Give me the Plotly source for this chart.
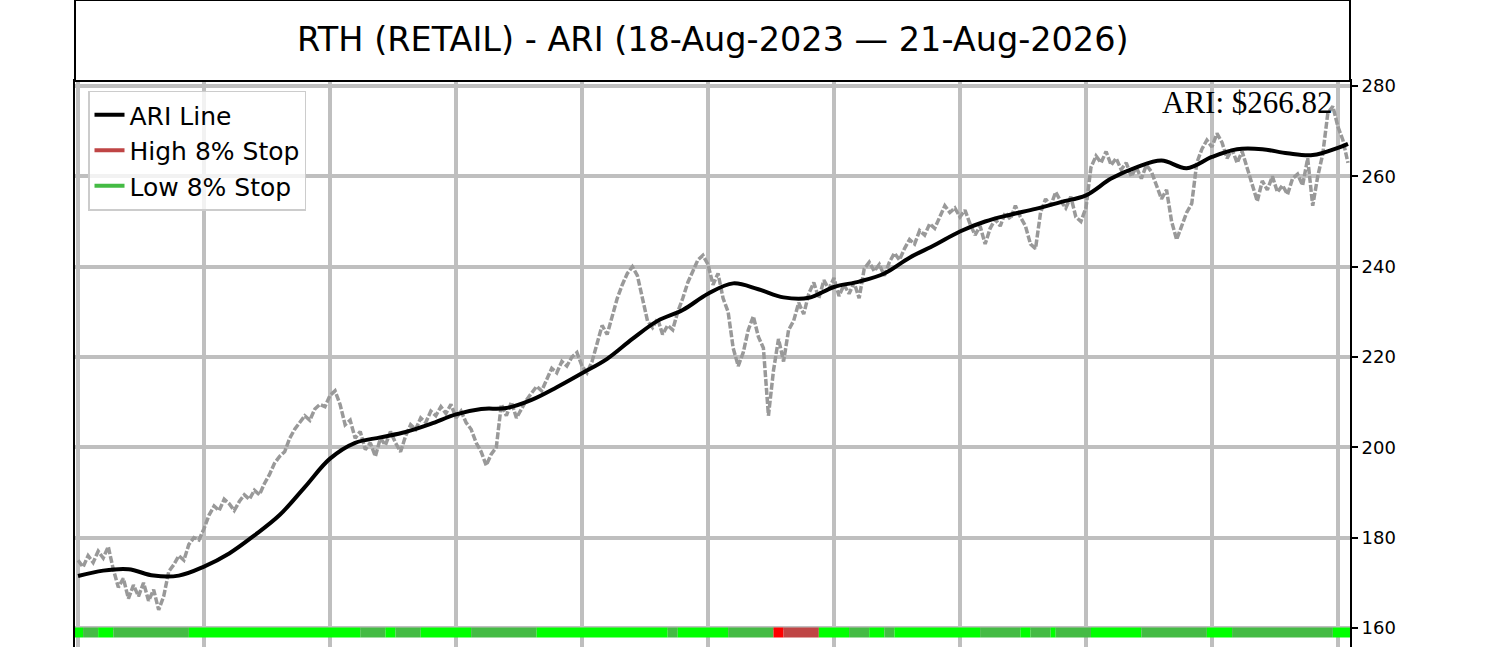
import plotly.graph_objects as go

# daily close (one point per bar index)
closes = [
    175, 173.5, 176, 174.5, 177, 175.5, 178, 173, 169, 171, 166.5, 169.5, 167, 170, 166, 168.5, 164, 167, 172.5, 174, 176, 175, 178.5, 180, 179.5,
    182, 185, 187, 186, 188.5, 187.5, 186, 188, 189.5, 188.5, 190.5, 189.5, 192, 194, 196.5, 198, 199, 202, 204, 205.5, 207, 206, 208.5, 209.5, 209,
    211.5, 212.5, 209.5, 205, 206, 202, 203.5, 199.5, 201, 198, 202, 200.5, 203.5, 201, 199, 202.5, 205, 204, 206.5, 205.5, 208, 207, 209, 207.5, 209.5,
    206.5, 208, 205.5, 204, 201, 199, 196, 198.5, 200, 209.5, 207, 210, 206.5, 208.5, 210.5, 212, 213.5, 212.5, 215, 217.5, 216.5, 219, 218, 220, 221,
    218, 216.5, 219, 223, 227, 225, 229, 233, 236, 238.5, 240, 238, 233, 228, 226.5, 228.5, 225, 227, 226, 230, 233, 236.5, 239, 241.5, 242.5,
    240.5, 236, 238.5, 233, 230, 222, 218, 221, 226, 229, 224.5, 222, 207, 217, 224, 219, 226, 228, 232, 229.5, 234, 236.5, 233, 237, 235,
    237.5, 233.5, 236, 234, 236.5, 233, 239.5, 241, 239, 240.5, 238, 241, 243, 241.5, 244, 246, 245, 248, 247, 249.5, 248.5, 251, 253.5, 252, 253,
    251, 252.5, 249.5, 247, 249, 245, 248.5, 250.5, 249, 252, 250.5, 253.5, 251, 249, 245, 244, 252, 255, 253.5, 256.5, 254.5, 253, 255.5, 251, 250,
    253, 262, 264.5, 263, 265.5, 262.5, 264, 261.5, 263, 260, 262, 259.5, 262.5, 261, 258, 255, 257, 250, 246, 249, 252, 254, 263, 266, 268,
    266.5, 269.5, 267.5, 264, 266, 263, 265.5, 262, 258.5, 254.5, 259, 257, 260, 256.5, 258, 256, 259.5, 260.5, 258, 264, 253.5, 260, 265, 274, 275.5,
    271, 268, 263,
]

# ARI line, sampled every 5 bars (+ last bar)
ari_idx = list(range(0, 251, 5)) + [252]
ari_vals = [
    171.5, 172.7, 173.0, 171.6, 171.6, 173.6, 176.5, 180.5, 185.0, 191.2,
    197.5, 201.0, 202.2, 203.4, 205.2, 207.3, 208.5, 208.7, 210.5, 213.3,
    216.4, 219.6, 224.0, 228.0, 230.4, 234.0, 236.3, 235.0, 233.2, 233.1,
    235.5, 236.7, 238.5, 242.0, 244.8, 247.8, 250.0, 251.5, 252.8, 254.3,
    255.8, 259.5, 262.0, 263.5, 261.8, 264.3, 266.0, 266.0, 265.1, 264.7,
    266.3, 267.2,
]
ari_last = 266.82

# stop state strip along the bottom
strip_level = 159
strip_breaks = [-0.6, 1, 4, 7, 22, 56, 61, 63, 68, 78, 91, 117, 119, 129, 138, 140,
                147, 153, 157, 160, 162, 179, 187, 189, 193, 194, 201, 211, 224, 229, 249, 252.4]
strip_state = ['L', 'D', 'L', 'D', 'L', 'D', 'L', 'D', 'L', 'D', 'L', 'D', 'L', 'D', 'R', 'B',
               'L', 'D', 'L', 'D', 'L', 'D', 'L', 'D', 'L', 'D', 'L', 'D', 'L', 'D', 'L']

y_ticks = [160, 180, 200, 220, 240, 260, 280]
title = "RTH (RETAIL) - ARI (18-Aug-2023 \u2014 21-Aug-2026)"

HIGH_C = '#bf4545'
LOW_C = '#44bb44'
state_colors = {'L': '#00ff00', 'D': LOW_C, 'R': '#ff0000', 'B': HIGH_C}

fig = go.Figure()

fig.add_trace(go.Scatter(
    x=list(range(len(closes))), y=closes, mode='lines',
    line=dict(color='#999999', width=3.5, dash='7px,2px'),
    showlegend=False, hoverinfo='skip'))

fig.add_trace(go.Scatter(
    x=ari_idx, y=ari_vals, mode='lines', name='ARI Line',
    line=dict(color='black', width=4, shape='spline'), legendrank=1))

for i, st in enumerate(strip_state):
    fig.add_trace(go.Scatter(
        x=[strip_breaks[i], strip_breaks[i + 1]], y=[strip_level, strip_level],
        mode='lines', line=dict(color=state_colors[st], width=10),
        showlegend=False, hoverinfo='skip'))

# legend-only entries
fig.add_trace(go.Scatter(x=[None], y=[None], mode='lines', name='High 8% Stop',
                         line=dict(color=HIGH_C, width=4), legendrank=2))
fig.add_trace(go.Scatter(x=[None], y=[None], mode='lines', name='Low 8% Stop',
                         line=dict(color=LOW_C, width=4), legendrank=3))

plot_h = 647 - 81
fig.add_shape(type='rect', xref='paper', yref='paper', x0=0, x1=1, y0=1, y1=1 + 81 / plot_h,
              line=dict(color='black', width=2), fillcolor='white', layer='above')
fig.add_annotation(text=title, xref='paper', yref='paper', x=0.5, y=1 + 41 / plot_h,
                   xanchor='center', yanchor='middle', showarrow=False,
                   font=dict(family='DejaVu Sans', size=33.5, color='black'))
fig.add_annotation(text=f"ARI: ${ari_last:.2f}", xref='paper', yref='paper', x=0.9885, y=0.997,
                   xanchor='right', yanchor='top', showarrow=False,
                   font=dict(family='Liberation Serif', size=31, color='black'))

fig.update_xaxes(range=[-0.6, 252.4], tick0=0, dtick=25, showticklabels=False,
                 showgrid=True, gridcolor='#bfbfbf', gridwidth=4, zeroline=False,
                 showline=True, linecolor='black', linewidth=2, mirror=True)
fig.update_yaxes(side='right', range=[155.79, 281.11], tickvals=y_ticks,
                 showgrid=True, gridcolor='#bfbfbf', gridwidth=4, zeroline=False,
                 showline=True, linecolor='black', linewidth=2, mirror=True,
                 ticks='outside', ticklen=6, tickwidth=1.5, tickcolor='black',
                 tickfont=dict(family='DejaVu Sans', size=18, color='black'))

fig.update_layout(
    width=1500, height=647,
    margin=dict(l=75, r=150, t=81, b=0),
    plot_bgcolor='white', paper_bgcolor='white',
    showlegend=True,
    legend=dict(x=0.0102, y=0.983, xanchor='left', yanchor='top',
                bgcolor='rgba(255,255,255,0.8)', bordercolor='#cccccc', borderwidth=1.5,
                font=dict(family='DejaVu Sans', size=25, color='black'),
                itemwidth=30, tracegroupgap=0),
)

fig.write_html("out.html", config={'displayModeBar': False},
               post_script="document.body.style.margin='0px';")
